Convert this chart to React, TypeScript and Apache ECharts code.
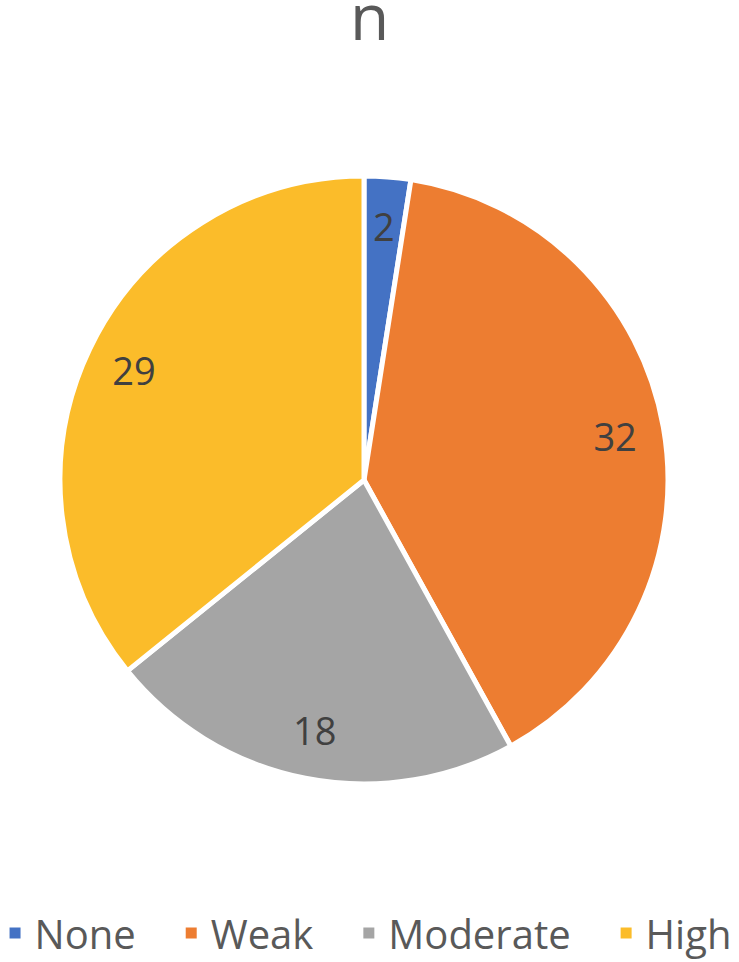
import React, { useEffect, useRef } from "react";
import * as echarts from "echarts";

const categories = ["None", "Weak", "Moderate", "High"];
const values = [2, 32, 18, 29];
const colors = ["#4472C4", "#ED7D31", "#A5A5A5", "#FBBC2A"];
const titleText = "n";

export default function App() {
  const ref = useRef<HTMLDivElement>(null);
  useEffect(() => {
    document.body.style.margin = "0";
    const chart = echarts.init(ref.current!, null, { renderer: "svg" });
    const data = categories.map((name, i) => ({ name, value: values[i], itemStyle: { color: colors[i] } }));
    const labelData = categories.map((name, i) => ({ name, value: values[i] }));
    const font = "'Open Sans', sans-serif";
    chart.setOption({
      animation: false,
      backgroundColor: "#ffffff",
      title: {
        text: titleText,
        left: "center",
        top: -8,
        padding: 0,
        textStyle: { fontFamily: font, fontSize: 64, lineHeight: 46, fontWeight: "normal", color: "#595959" },
      },
      legend: {
        data: categories,
        bottom: 4,
        left: "center",
        icon: "rect",
        itemWidth: 13,
        itemHeight: 13,
        itemGap: 48,
        textStyle: { fontFamily: font, fontSize: 40, color: "#595959", padding: [0, 0, 0, 8] },
      },
      series: [
        {
          type: "pie",
          center: [364, 480],
          radius: [0, 304],
          startAngle: 90,
          clockwise: true,
          data,
          label: { show: false },
          labelLine: { show: false },
          itemStyle: { borderColor: "#ffffff", borderWidth: 5 },
          silent: true,
        },
        {
          type: "pie",
          center: [364, 480],
          radius: [200, 304],
          startAngle: 90,
          clockwise: true,
          data: labelData,
          silent: true,
          legendHoverLink: false,
          itemStyle: { color: "rgba(0,0,0,0)" },
          label: {
            show: true,
            position: "inside",
            formatter: "{c}",
            fontFamily: font,
            fontSize: 38,
            color: "#404040",
          },
          labelLine: { show: false },
        },
      ],
    });
    return () => chart.dispose();
  }, []);
  return <div ref={ref} style={{ width: 739, height: 962 }} />;
}
